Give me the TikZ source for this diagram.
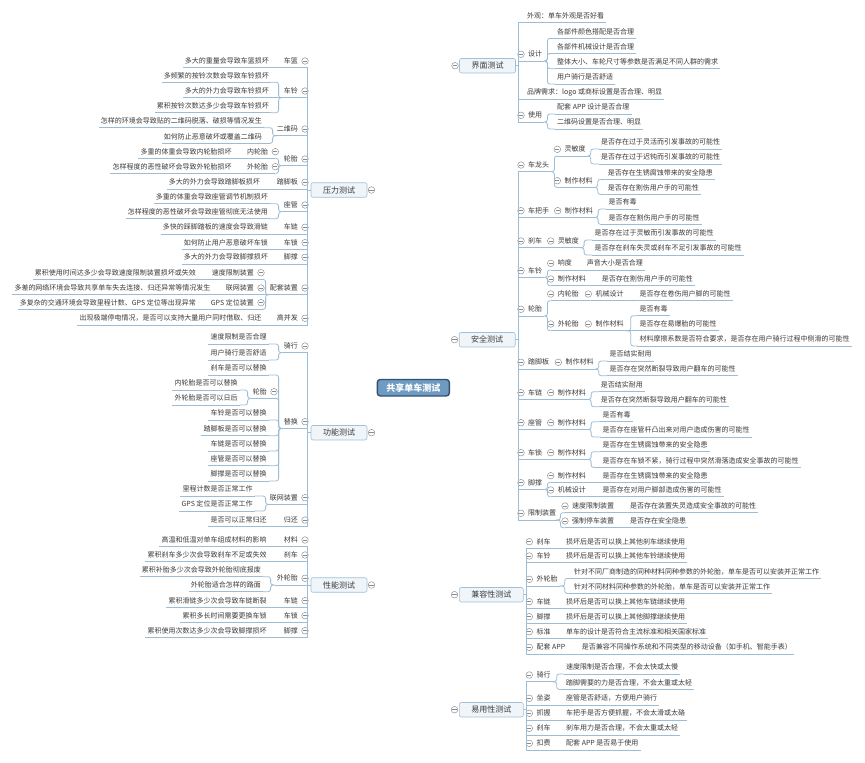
\documentclass[tikz,border=0pt]{standalone}
\usepackage{fontspec}
\newfontfamily\cjk{Noto Sans CJK SC}
\usetikzlibrary{calc}
\definecolor{lnc}{HTML}{9DBDD6}
\definecolor{txc}{HTML}{3A3A3A}
\definecolor{rootf}{HTML}{6E9BC2}
\definecolor{rootd}{HTML}{34516D}
\definecolor{boxf}{HTML}{F0F5FA}
\definecolor{boxd}{HTML}{A3C0D8}
\definecolor{mcc}{HTML}{8A8A8A}
\pgfdeclarelayer{bg}\pgfsetlayers{bg,main}
\tikzset{
 ln/.style={draw=lnc,line width=0.8pt},
 tx/.style={font=\cjk\fontsize{7}{8}\selectfont,text=txc,inner xsep=2pt,inner ysep=2.8pt,text height=5.8pt,text depth=1.2pt},
 mc/.style={circle,draw=mcc,line width=0.45pt,fill=white,minimum size=6.6pt,inner sep=0pt,
   path picture={\draw[mcc,line width=0.5pt]([xshift=-2.1pt]path picture bounding box.center)--([xshift=2.1pt]path picture bounding box.center);}},
 mainbox/.style={draw=boxd,fill=boxf,rounded corners=2pt,line width=0.6pt,minimum height=14.5pt,inner sep=0pt,font=\cjk\fontsize{8}{9}\selectfont,text=txc},
 rootbox/.style={draw=rootd,fill=rootf,rounded corners=3pt,line width=1.4pt,minimum width=72pt,minimum height=16.5pt,inner sep=0pt,font=\cjk\bfseries\fontsize{9}{10}\selectfont,text=white}
}
% left leaf: name, text right x, text centre y, text
\newcommand\mLL[4]{\node[tx,anchor=south east] (#1) at (#2+2,#3+6.7) {#4};\coordinate (#1-in) at (#1.south east);\draw[ln] (#1.south west)--(#1.south east);}
% left parent with circle: name, circle x, y, text
\newcommand\mLP[4]{\node[mc] (#1c) at (#2,#3) {};\node[tx,anchor=south east] (#1) at (#2-5,#3+6.7) {#4};\coordinate (#1-in) at (#2,#3+6.7);\draw[ln] (#1.south west)--(#1-in);}
% right leaf: name, text left x, y, text
\newcommand\mRL[4]{\node[tx,anchor=south west] (#1) at (#2-2,#3+6.7) {#4};\coordinate (#1-in) at (#1.south west);\draw[ln] (#1.south west)--(#1.south east);}
% right parent with circle
\newcommand\mRP[4]{\node[mc] (#1c) at (#2,#3) {};\node[tx,anchor=south west] (#1) at (#2+5,#3+6.7) {#4};\coordinate (#1-in) at (#2,#3+6.7);\draw[ln] (#1-in)--(#1.south east);}
% connectors
\newcommand\mCL[3][3]{\draw[ln,rounded corners=2.5pt] (#2.south west) -- ++(-#1,0) |- (#3-in);}
\newcommand\mCR[3][3]{\draw[ln,rounded corners=2.5pt] (#2.south east) -- ++(#1,0) |- (#3-in);}
\newcommand\mSL[2]{\draw[ln] (#1.south west) -- (#2-in);}
\newcommand\mSR[2]{\draw[ln] (#1.south east) -- (#2-in);}
\newcommand\mTL[2]{\draw[ln] (#1.west) -- ++(-3,0) |- (#2-in);}
\newcommand\mTR[2]{\draw[ln] (#1.east) -- ++(3,0) |- (#2-in);}
\newcommand\mRC[2]{\draw[ln] (#1.center) .. controls ($(#1.center)!0.5!(#1.center|-#2)$) and ($(#1.center|-#2)!0.3!(#2)$) .. (#2);}
\begin{document}
\begin{tikzpicture}[x=1pt,y=-1pt]
\useasboundingbox (0,0) rectangle (865,763);
\fill[white] (0,0) rectangle (865,763);
% root and main branches
\node[rootbox] (R) at (413.3,387.7) {共享单车测试};
\node[mainbox,minimum width=56pt] (P) at (339,190) {压力测试};
\node[mc] (Pc) at (371.5,190) {};
\node[mainbox,minimum width=56pt] (F) at (339,432.7) {功能测试};
\node[mc] (Fc) at (371.5,432.7) {};
\node[mainbox,minimum width=56pt] (X) at (339,585) {性能测试};
\node[mc] (Xc) at (371.5,585) {};
\node[mainbox,minimum width=56pt] (J) at (487.5,65.7) {界面测试};
\node[mc] (Jc) at (455,65.7) {};
\node[mainbox,minimum width=56pt] (S) at (487.2,339.7) {安全测试};
\node[mc] (Sc) at (454.5,339.7) {};
\node[mainbox,minimum width=64pt] (K) at (491.3,594.7) {兼容性测试};
\node[mc] (Kc) at (454.5,594.7) {};
\node[mainbox,minimum width=64pt] (E) at (491.3,709.7) {易用性测试};
\node[mc] (Ec) at (454.5,709.7) {};
\begin{pgfonlayer}{bg}
\mRC{R}{Pc.east}\mRC{R}{Fc.east}\mRC{R}{Xc.east}
\mRC{R}{Jc.west}\mRC{R}{Sc.west}\mRC{R}{Kc.west}\mRC{R}{Ec.west}
\end{pgfonlayer}
% ===== 压力测试 =====
\mLP{p1}{305}{61}{车篮}\mLL{p1a}{269}{61}{多大的重量会导致车篮损坏}\mSL{p1}{p1a}
\mLP{p2}{305}{91}{车铃}
\mLL{p2a}{269}{75.5}{多频繁的按铃次数会导致车铃损坏}
\mLL{p2b}{269}{91}{多大的外力会导致车铃损坏}
\mLL{p2c}{269}{106}{累积按铃次数达多少会导致车铃损坏}
\mCL{p2}{p2a}\mSL{p2}{p2b}\mCL{p2}{p2c}
\mLP{p3}{305}{129}{二维码}
\mLL{p3a}{262}{121}{怎样的环境会导致贴的二维码脱落、破损等情况发生}
\mLL{p3b}{262}{136.7}{如何防止恶意破坏或覆盖二维码}
\mCL[2]{p3}{p3a}\mCL[2]{p3}{p3b}
\mLP{p4}{305}{159}{轮胎}
\mLP{p4a}{275.3}{151.7}{内轮胎}\mLP{p4b}{275.3}{166.7}{外轮胎}
\mLL{p4a1}{231.7}{151.7}{多重的体重会导致内轮胎损坏}
\mLL{p4b1}{231.7}{166.7}{怎样程度的恶性破坏会导致外轮胎损坏}
\mCL{p4}{p4a}\mCL{p4}{p4b}\mSL{p4a}{p4a1}\mSL{p4b}{p4b1}
\mLP{p5}{305}{182.3}{踏脚板}\mLL{p5a}{260}{182.3}{多大的外力会导致踏脚板损坏}\mSL{p5}{p5a}
\mLP{p6}{305}{205}{座管}
\mLL{p6a}{268}{197}{多重的体重会导致座管调节机制损坏}
\mLL{p6b}{268}{212}{怎样程度的恶性破坏会导致座管彻底无法使用}
\mCL{p6}{p6a}\mCL{p6}{p6b}
\mLP{p7}{305}{227.3}{车链}\mLL{p7a}{268}{227.3}{多快的踩脚踏板的速度会导致滑链}\mSL{p7}{p7a}
\mLP{p8}{305}{242.7}{车锁}\mLL{p8a}{268}{242.7}{如何防止用户恶意破坏车锁}\mSL{p8}{p8a}
\mLP{p9}{305}{257.3}{脚撑}\mLL{p9a}{268}{257.3}{多大的外力会导致脚撑损坏}\mSL{p9}{p9a}
\mLP{p10}{305}{288}{配套装置}
\mLP{p10a}{261}{272.7}{速度限制装置}
\mLP{p10b}{261}{288}{联网装置}
\mLP{p10c}{261}{302.7}{GPS 定位装置}
\mCL[2]{p10}{p10a}\mSL{p10}{p10b}\mCL[2]{p10}{p10c}
\mLL{p10a1}{196}{272.7}{累积使用时间达多少会导致速度限制装置损坏或失效}
\mLL{p10b1}{210.7}{288}{多差的网络环境会导致共享单车失去连接、归还异常等情况发生}
\mLL{p10c1}{196}{302.7}{多复杂的交通环境会导致里程计数、GPS 定位等出现异常}
\mSL{p10a}{p10a1}\mSL{p10b}{p10b1}\mSL{p10c}{p10c1}
\mLP{p11}{305}{318.3}{高并发}\mLL{p11a}{261.7}{318.3}{出现极端停电情况，是否可以支持大量用户同时借取、归还}\mSL{p11}{p11a}
\foreach \c in {p1,p2,p3,p4,p5,p6,p7,p8,p9,p10,p11}{\mTL{P}{\c}}
% ===== 功能测试 =====
\mLP{f1}{305}{346}{骑行}
\mLL{f1a}{266.7}{337.3}{速度限制是否合理}
\mLL{f1b}{266.7}{353.3}{用户骑行是否舒适}
\mCL{f1}{f1a}\mCL{f1}{f1b}
\mLP{f2}{305}{421.7}{替换}
\mLL{f2a}{266.7}{368.3}{刹车是否可以替换}
\mLP{f2b}{274}{391.7}{轮胎}
\mLL{f2b1}{237.7}{383.3}{内轮胎是否可以替换}
\mLL{f2b2}{237.7}{398.3}{外轮胎是否可以日后}
\mCL{f2b}{f2b1}\mCL{f2b}{f2b2}
\mLL{f2c}{266.7}{413.3}{车铃是否可以替换}
\mLL{f2d}{266.7}{429}{踏脚板是否可以替换}
\mLL{f2e}{266.7}{444.3}{车链是否可以替换}
\mLL{f2f}{266.7}{459}{座管是否可以替换}
\mLL{f2g}{266.7}{474.3}{脚撑是否可以替换}
\foreach \c in {f2a,f2b,f2c,f2d,f2e,f2f,f2g}{\mCL{f2}{\c}}
\mLP{f3}{305}{497.7}{联网装置}
\mLL{f3a}{252.7}{489.3}{里程计数是否正常工作}
\mLL{f3b}{252.7}{504.3}{GPS 定位是否正常工作}
\mCL[2]{f3}{f3a}\mCL[2]{f3}{f3b}
\mLP{f4}{305}{520}{归还}\mLL{f4a}{266.7}{520}{是否可以正常归还}\mSL{f4}{f4a}
\foreach \c in {f1,f2,f3,f4}{\mTL{F}{\c}}
% ===== 性能测试 =====
\mLP{x1}{305}{540}{材料}\mLL{x1a}{266.7}{540}{高温和低温对单车组成材料的影响}\mSL{x1}{x1a}
\mLP{x2}{305}{555}{刹车}\mLL{x2a}{266.7}{555}{累积刹车多少次会导致刹车不足或失效}\mSL{x2}{x2a}
\mLP{x3}{305}{578.3}{外轮胎}
\mLL{x3a}{261}{570}{累积补胎多少次会导致外轮胎彻底报废}
\mLL{x3b}{261}{585}{外轮胎适合怎样的路面}
\mCL[4]{x3}{x3a}\mCL[4]{x3}{x3b}
\mLP{x4}{305}{600.7}{车链}\mLL{x4a}{266.7}{600.7}{累积滑链多少次会导致车链断裂}\mSL{x4}{x4a}
\mLP{x5}{305}{615.7}{车锁}\mLL{x5a}{266.7}{615.7}{累积多长时间需要更换车锁}\mSL{x5}{x5a}
\mLP{x6}{305}{630.7}{脚撑}\mLL{x6a}{266.7}{630.7}{累积使用次数达多少次会导致脚撑损坏}\mSL{x6}{x6a}
\foreach \c in {x1,x2,x3,x4,x5,x6}{\mTL{X}{\c}}
% ===== 界面测试 =====
\mRL{j1}{527}{16}{外观：单车外观是否好看}
\mRP{j2}{521}{54.3}{设计}
\mRL{j2a}{557}{31.7}{各部件颜色搭配是否合理}
\mRL{j2b}{557}{46.7}{各部件机械设计是否合理}
\mRL{j2c}{557}{62}{整体大小、车轮尺寸等参数是否满足不同人群的需求}
\mRL{j2d}{557}{77.3}{用户骑行是否舒适}
\foreach \c in {j2a,j2b,j2c,j2d}{\mCR{j2}{\c}}
\mRL{j3}{527}{92.3}{品牌需求：logo 或商标设置是否合理、明显}
\mRP{j4}{521}{115.3}{使用}
\mRL{j4a}{557}{107.3}{配套 APP 设计是否合理}
\mRL{j4b}{557}{122.3}{二维码设置是否合理、明显}
\mCR{j4}{j4a}\mCR{j4}{j4b}
\foreach \c in {j1,j2,j3,j4}{\mTR{J}{\c}}
% ===== 安全测试 =====
\mRP{s1}{521}{165}{车龙头}
\mRP{s1a}{557.3}{149.3}{灵敏度}
\mRL{s1a1}{601}{142.3}{是否存在过于灵活而引发事故的可能性}
\mRL{s1a2}{601}{157.3}{是否存在过于迟钝而引发事故的可能性}
\mCR{s1a}{s1a1}\mCR{s1a}{s1a2}
\mRP{s1b}{557.3}{180.7}{制作材料}
\mRL{s1b1}{607.7}{172.7}{是否存在生锈腐蚀带来的安全隐患}
\mRL{s1b2}{607.7}{187.7}{是否存在割伤用户手的可能性}
\mCR{s1b}{s1b1}\mCR{s1b}{s1b2}
\mCR{s1}{s1a}\mCR{s1}{s1b}
\mRP{s2}{521}{210.7}{车把手}\mRP{s2a}{557.7}{210.7}{制作材料}\mSR{s2}{s2a}
\mRL{s2a1}{608.3}{202.3}{是否有毒}\mRL{s2a2}{608.3}{217.7}{是否存在割伤用户手的可能性}
\mCR{s2a}{s2a1}\mCR{s2a}{s2a2}
\mRP{s3}{521}{241}{刹车}\mRP{s3a}{550.7}{241}{灵敏度}\mSR{s3}{s3a}
\mRL{s3a1}{594.3}{233.3}{是否存在过于灵敏而引发事故的可能性}
\mRL{s3a2}{594.3}{248.3}{是否存在刹车失灵或刹车不足引发事故的可能性}
\mCR{s3a}{s3a1}\mCR{s3a}{s3a2}
\mRP{s4}{521}{270.7}{车铃}
\mRP{s4a}{550.7}{263.3}{响度}\mRL{s4a1}{586.7}{263.3}{声音大小是否合理}\mSR{s4a}{s4a1}
\mRP{s4b}{550.7}{279}{制作材料}\mRL{s4b1}{601.7}{279}{是否存在割伤用户手的可能性}\mSR{s4b}{s4b1}
\mCR{s4}{s4a}\mCR{s4}{s4b}
\mRP{s5}{521}{309.3}{轮胎}
\mRP{s5a}{550.7}{294}{内轮胎}\mRP{s5a1}{588.3}{294}{机械设计}\mRL{s5a11}{639.3}{294}{是否存在卷伤用户脚的可能性}
\mSR{s5a}{s5a1}\mSR{s5a1}{s5a11}
\mRP{s5b}{550.7}{324}{外轮胎}\mRP{s5b1}{588.3}{324}{制作材料}
\mRL{s5b11}{639.3}{309}{是否有毒}
\mRL{s5b12}{639.3}{324}{是否存在易爆胎的可能性}
\mRL{s5b13}{639.3}{339.3}{材料摩擦系数是否符合要求，是否存在用户骑行过程中侧滑的可能性}
\mSR{s5b}{s5b1}\mCR[5]{s5b1}{s5b11}\mSR{s5b1}{s5b12}\mCR[5]{s5b1}{s5b13}
\mCR{s5}{s5a}\mCR{s5}{s5b}
\mRP{s6}{521}{362.3}{踏脚板}\mRP{s6a}{558.3}{362.3}{制作材料}\mSR{s6}{s6a}
\mRL{s6a1}{609.3}{354.3}{是否结实耐用}\mRL{s6a2}{609.3}{369}{是否存在突然断裂导致用户翻车的可能性}
\mCR{s6a}{s6a1}\mCR{s6a}{s6a2}
\mRP{s7}{521}{392.7}{车链}\mRP{s7a}{550.7}{392.7}{制作材料}\mSR{s7}{s7a}
\mRL{s7a1}{600.7}{385}{是否结实耐用}\mRL{s7a2}{600.7}{400}{是否存在突然断裂导致用户翻车的可能性}
\mCR{s7a}{s7a1}\mCR{s7a}{s7a2}
\mRP{s8}{521}{422.7}{座管}\mRP{s8a}{550.7}{422.7}{制作材料}\mSR{s8}{s8a}
\mRL{s8a1}{602.3}{415}{是否有毒}\mRL{s8a2}{602.3}{430.3}{是否存在座管杆凸出来对用户造成伤害的可能性}
\mCR{s8a}{s8a1}\mCR{s8a}{s8a2}
\mRP{s9}{521}{452.7}{车锁}\mRP{s9a}{550.7}{452.7}{制作材料}\mSR{s9}{s9a}
\mRL{s9a1}{602.3}{445}{是否存在生锈腐蚀带来的安全隐患}\mRL{s9a2}{602.3}{460.7}{是否存在车锁不紧，骑行过程中突然滑落造成安全事故的可能性}
\mCR{s9a}{s9a1}\mCR{s9a}{s9a2}
\mRP{s10}{521}{482.7}{脚撑}
\mRP{s10a}{550.7}{475.7}{制作材料}\mRL{s10a1}{602.3}{475.7}{是否存在生锈腐蚀带来的安全隐患}\mSR{s10a}{s10a1}
\mRP{s10b}{550.7}{490}{机械设计}\mRL{s10b1}{602.3}{490}{是否存在对用户脚部造成伤害的可能性}\mSR{s10b}{s10b1}
\mCR{s10}{s10a}\mCR{s10}{s10b}
\mRP{s11}{521}{513.3}{限制装置}
\mRP{s11a}{565}{506}{速度限制装置}\mRL{s11a1}{630}{506}{是否存在装置失灵造成安全事故的可能性}\mSR{s11a}{s11a1}
\mRP{s11b}{565}{521}{强制停车装置}\mRL{s11b1}{630}{521}{是否存在安全隐患}\mSR{s11b}{s11b1}
\mCR[2]{s11}{s11a}\mCR[2]{s11}{s11b}
\foreach \c in {s1,s2,s3,s4,s5,s6,s7,s8,s9,s10,s11}{\mTR{S}{\c}}
% ===== 兼容性测试 =====
\mRP{k1}{529.3}{541.7}{刹车}\mRL{k1a}{566}{541.7}{损坏后是否可以换上其他刹车继续使用}\mSR{k1}{k1a}
\mRP{k2}{529.3}{556}{车铃}\mRL{k2a}{566}{556}{损坏后是否可以换上其他车铃继续使用}\mSR{k2}{k2a}
\mRP{k3}{529.3}{579.3}{外轮胎}
\mRL{k3a}{574}{571.7}{针对不同厂商制造的同种材料同种参数的外轮胎，单车是否可以安装并正常工作}
\mRL{k3b}{574}{586.7}{针对不同材料同种参数的外轮胎，单车是否可以安装并正常工作}
\mCR[5]{k3}{k3a}\mCR[5]{k3}{k3b}
\mRP{k4}{529.3}{601.7}{车链}\mRL{k4a}{566}{601.7}{损坏后是否可以换上其他车链继续使用}\mSR{k4}{k4a}
\mRP{k5}{529.3}{616.7}{脚撑}\mRL{k5a}{566}{616.7}{损坏后是否可以换上其他脚撑继续使用}\mSR{k5}{k5a}
\mRP{k6}{529.3}{631.7}{标准}\mRL{k6a}{566}{631.7}{单车的设计是否符合主流标准和相关国家标准}\mSR{k6}{k6a}
\mRP{k7}{529.3}{647.3}{配套 APP}\mRL{k7a}{581.7}{647.3}{是否兼容不同操作系统和不同类型的移动设备（如手机、智能手表）}\mSR{k7}{k7a}
\foreach \c in {k1,k2,k3,k4,k5,k6,k7}{\mTR{K}{\c}}
% ===== 易用性测试 =====
\mRP{e1}{529.3}{675}{骑行}
\mRL{e1a}{566}{667.3}{速度限制是否合理，不会太快或太慢}
\mRL{e1b}{566}{682.7}{踏脚需要的力是否合理，不会太重或太轻}
\mCR[4]{e1}{e1a}\mCR[4]{e1}{e1b}
\mRP{e2}{529.3}{698.3}{坐姿}\mRL{e2a}{566}{698.3}{座管是否舒适，方便用户骑行}\mSR{e2}{e2a}
\mRP{e3}{529.3}{713.3}{抓握}\mRL{e3a}{566}{713.3}{车把手是否方便抓握，不会太滑或太硌}\mSR{e3}{e3a}
\mRP{e4}{529.3}{728.3}{刹车}\mRL{e4a}{566}{728.3}{刹车用力是否合理，不会太重或太轻}\mSR{e4}{e4a}
\mRP{e5}{529.3}{743.3}{扣费}\mRL{e5a}{566}{743.3}{配套 APP 是否易于使用}\mSR{e5}{e5a}
\foreach \c in {e1,e2,e3,e4,e5}{\mTR{E}{\c}}
\end{tikzpicture}
\end{document}
